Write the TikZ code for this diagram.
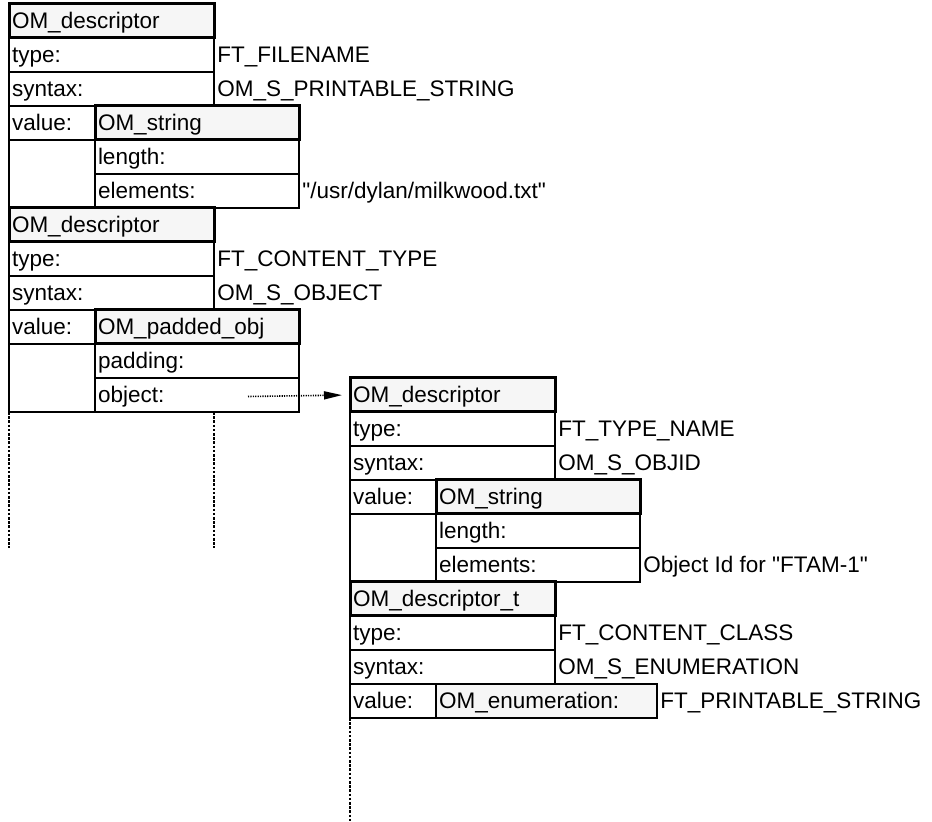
\documentclass[tikz,border=0pt]{standalone}
\usepackage{fontspec}
\setmainfont{Liberation Sans}
\usetikzlibrary{positioning,calc,arrows.meta}

\definecolor{hdrgray}{gray}{0.965}

\begin{document}
\begin{tikzpicture}[x=0.5pt, y=-0.5pt, font=\fontsize{11.25pt}{13pt}\selectfont,
    cell/.style={draw, line width=0.7pt, anchor=north west, outer sep=0pt, inner xsep=1.5pt, inner ysep=0pt,
        minimum height=17pt, text height=10pt, text depth=2.5pt, text width=#1, align=left},
    cell/.default=99.5pt,
    hdr/.style={cell=#1, line width=1.5pt, fill=hdrgray},
    hdr/.default=99.5pt,
    gap/.style={draw, line width=0.7pt, anchor=north west, outer sep=0pt, inner sep=0pt, minimum width=43pt, minimum height=34pt},
    valtext/.style={anchor=west, inner xsep=1.5pt, inner ysep=0pt, text height=10pt, text depth=2.5pt},
    cont/.style={line width=1pt, dash pattern=on 1.3pt off 0.8pt},
    ptr/.style={line width=0.8pt, dash pattern=on 0.6pt off 0.6pt, -{Triangle[length=9pt,width=4pt]}, shorten >=4pt}]

    \useasboundingbox (0,0) rectangle (932,822);

        % first descriptor: file name
        \node [hdr] (d1) at (9,4) {OM\_descriptor};
        \node [cell] (t1) at (d1.south west) {type:};
        \node [valtext] at (t1.east) {FT\_FILENAME};
        \node [cell] (s1) at (t1.south west) {syntax:};
        \node [valtext] at (s1.east) {OM\_S\_PRINTABLE\_STRING};
        \node [cell=40pt] (v1) at (s1.south west) {value:};
        \node [hdr=99pt] (str1) at (v1.north east) {OM\_string};
        \node [cell=99pt] (len1) at (str1.south west) {length:};
        \node [cell=99pt] (el1) at (len1.south west) {elements:};
        \node [valtext] at (el1.east) {\textquotedbl/usr/dylan/milkwood.txt\textquotedbl};
        \node [gap] (g1) at (v1.south west) {};

        % second descriptor: content type
        \node [hdr] (d2) at (g1.south west) {OM\_descriptor};
        \node [cell] (t2) at (d2.south west) {type:};
        \node [valtext] at (t2.east) {FT\_CONTENT\_TYPE};
        \node [cell] (s2) at (t2.south west) {syntax:};
        \node [valtext] at (s2.east) {OM\_S\_OBJECT};
        \node [cell=40pt] (v2) at (s2.south west) {value:};
        \node [hdr=99pt] (pad2) at (v2.north east) {OM\_padded\_obj};
        \node [cell=99pt] (pg2) at (pad2.south west) {padding:};
        \node [cell=99pt] (ob2) at (pg2.south west) {object:};
        \node [gap] (g2) at (v2.south west) {};

        % third descriptor: type name
        \node [hdr] (d3) at ([xshift=25.5pt]ob2.north east) {OM\_descriptor};
        \node [cell] (t3) at (d3.south west) {type:};
        \node [valtext] at (t3.east) {FT\_TYPE\_NAME};
        \node [cell] (s3) at (t3.south west) {syntax:};
        \node [valtext] at (s3.east) {OM\_S\_OBJID};
        \node [cell=40pt] (v3) at (s3.south west) {value:};
        \node [hdr=99pt] (str3) at (v3.north east) {OM\_string};
        \node [cell=99pt] (len3) at (str3.south west) {length:};
        \node [cell=99pt] (el3) at (len3.south west) {elements:};
        \node [valtext] at (el3.east) {Object Id for \textquotedbl FTAM-1\textquotedbl};
        \node [gap] (g3) at (v3.south west) {};

        % fourth descriptor: content class
        \node [hdr] (d4) at (g3.south west) {OM\_descriptor\_t};
        \node [cell] (t4) at (d4.south west) {type:};
        \node [valtext] at (t4.east) {FT\_CONTENT\_CLASS};
        \node [cell] (s4) at (t4.south west) {syntax:};
        \node [valtext] at (s4.east) {OM\_S\_ENUMERATION};
        \node [cell=40pt] (v4) at (s4.south west) {value:};
        \node [cell=107.5pt, fill=hdrgray] (en4) at (v4.north east) {OM\_enumeration:};
        \node [valtext] at (en4.east) {FT\_PRINTABLE\_STRING};

        % continuation lines
        \coordinate (obj_ptr) at (248,396.5);
        \coordinate (cont1) at (9,548);
        \coordinate (cont2) at (214,548);
        \coordinate (cont3) at (350,822);
        \draw [cont] (g2.south west) -- (cont1);
        \draw [cont] (s2.south east |- g2.south) -- (cont2);
        \draw [cont] (v4.south west) -- (cont3);

        % pointer
        \draw [ptr] (obj_ptr) -- (d3.west);

    \end{tikzpicture}
\end{document}
